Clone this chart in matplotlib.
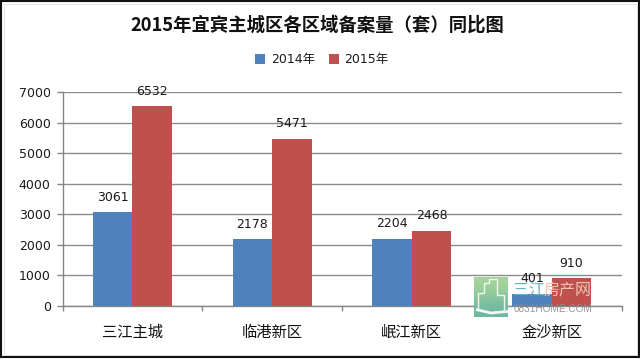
import matplotlib
matplotlib.use('Agg')
import matplotlib.pyplot as plt
from matplotlib.patches import Rectangle
import numpy as np

plt.rcParams['font.family'] = ['Noto Sans CJK SC', 'DejaVu Sans']

categories = ['三江主城', '临港新区', '岷江新区', '金沙新区']
values_2014 = [3061, 2178, 2204, 401]
values_2015 = [6532, 5471, 2468, 910]
yticks = [0, 1000, 2000, 3000, 4000, 5000, 6000, 7000]
title = '2015年宜宾主城区各区域备案量（套）同比图'

W, H = 640, 359
fig = plt.figure(figsize=(W / 100, H / 100), dpi=100, facecolor='white')
ax = fig.add_axes([62.5 / W, 1 - 306 / H, (621.5 - 62.5) / W, (306 - 92) / H])

x = np.arange(len(categories))
bw = 0.282
b1 = ax.bar(x - bw / 2, values_2014, bw, color='#4F81BD', label='2014年', zorder=3)
b2 = ax.bar(x + bw / 2, values_2015, bw, color='#C0504D', label='2015年', zorder=3)

for bars in (b1, b2):
    for r in bars:
        ax.annotate(str(int(r.get_height())), (r.get_x() + r.get_width() / 2, r.get_height()),
                    xytext=(0, 10.8), textcoords='offset points', ha='center', va='center',
                    fontsize=9, color='#1a1a1a', family='DejaVu Sans', zorder=5)

ax.set_xlim(-0.5, 3.5)
ax.set_ylim(0, 7000)
ax.set_yticks(yticks)
ax.set_yticklabels([str(v) for v in yticks], family='DejaVu Sans', fontsize=9, color='#1a1a1a')
ax.set_xticks(np.arange(-0.5, 4, 1), minor=False)
ax.set_xticklabels([])
ax.set_xticks(x, minor=True)
ax.set_xticklabels(categories, minor=True, fontsize=11, color='#111111')
ax.tick_params(axis='x', which='major', length=3.5, color='#868686', width=1)
ax.tick_params(axis='x', which='minor', length=0, pad=13)
ax.tick_params(axis='y', length=4.5, color='#868686', width=1, pad=4)
ax.grid(axis='y', color='#8C8C8C', linewidth=1, zorder=1)
ax.set_axisbelow(True)
for s in ('top', 'right'):
    ax.spines[s].set_visible(False)
for s in ('left', 'bottom'):
    ax.spines[s].set_color('#868686')
    ax.spines[s].set_linewidth(1)

fig.text(317 / W, 1 - 25 / H, title, ha='center', va='center', fontsize=13.2,
         fontweight='bold', color='#111111',
         family=['Noto Sans CJK SC', 'DejaVu Sans'])

leg = ax.legend(loc='center', bbox_to_anchor=(322 / W, 1 - 60 / H), bbox_transform=fig.transFigure,
                ncol=2, frameon=False, handlelength=0.8, handleheight=0.8,
                prop={'family': ['DejaVu Sans', 'Noto Sans CJK SC'], 'size': 9},
                handletextpad=0.45, columnspacing=1.1, labelcolor='#1a1a1a')

# watermark: gradient logo tile with a pale building outline, site name and URL
logo = fig.add_axes([474 / W, 1 - 317 / H, 34 / W, 40 / H], zorder=6)
gradient = np.array([[0.0], [1.0]])
cmap = matplotlib.colors.LinearSegmentedColormap.from_list('wm', ['#A6D59A', '#6DB8A0'])
logo.imshow(gradient, aspect='auto', cmap=cmap, extent=(0, 1, 0, 1), interpolation='bicubic')
logo.plot([0.12, 0.12, 0.3, 0.3, 0.45, 0.45, 0.68, 0.68, 0.88, 0.88],
          [0.18, 0.6, 0.6, 0.85, 0.85, 0.95, 0.95, 0.55, 0.55, 0.2],
          color='white', lw=1, alpha=0.85)
logo.plot([0.1, 0.5, 1.0], [0.18, 0.1, 0.14], color='white', lw=2, alpha=0.9)
logo.set_xlim(0, 1)
logo.set_ylim(0, 1)
logo.axis('off')

fig.text(513 / W, 1 - 291 / H, '三江', fontsize=11.5, color='#62B3C4',
         va='center', ha='left', zorder=7)
fig.text(543 / W, 1 - 291 / H, '房产网', fontsize=11.5, color='#EFC4B4',
         va='center', ha='left', zorder=7)
fig.text(514 / W, 1 - 309.5 / H, '0831HOME.COM', fontsize=7.2, color='#8A8A8A', alpha=0.9,
         va='center', ha='left', family='Liberation Sans', zorder=7)

# outer frame with a faint inner line
fig.add_artist(Rectangle((0.7 / W, 1.7 / H), (W - 1.7) / W, (H - 2.7) / H, transform=fig.transFigure,
                         fill=False, edgecolor='#111111', linewidth=1.5, zorder=8))
fig.add_artist(Rectangle((3.5 / W, 4.5 / H), (W - 7) / W, (H - 8) / H, transform=fig.transFigure,
                         fill=False, edgecolor='#E6E6E6', linewidth=0.7, zorder=2))

fig.savefig('out.png', dpi=100, facecolor='white')
